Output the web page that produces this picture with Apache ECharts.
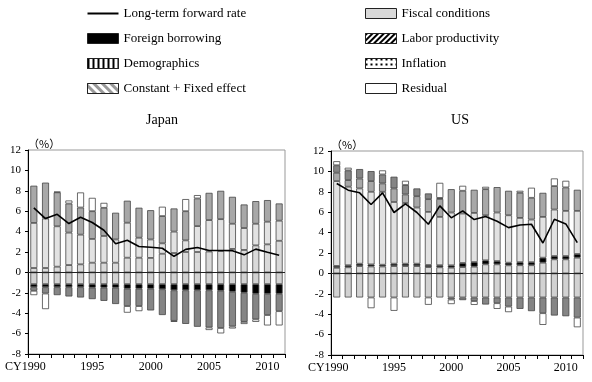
<!DOCTYPE html>
<html>
<head>
<meta charset="utf-8">
<script src="https://cdn.jsdelivr.net/npm/echarts@6/dist/echarts.min.js"></script>
<style>
  html, body { margin: 0; padding: 0; background: #fff; }
  #chart { width: 592px; height: 382px; }
</style>
</head>
<body>
<div id="chart"></div>
<script>
const years = ['1990', '1991', '1992', '1993', '1994', '1995', '1996', '1997', '1998', '1999', '2000',
  '2001', '2002', '2003', '2004', '2005', '2006', '2007', '2008', '2009', '2010', '2011'];
const yTicks = { min: -8, max: 12, step: 2 };

// Japan
const jpForward = [6.33, 5.28, 5.7, 4.79, 5.41, 4.89, 4.13, 2.8, 3.15, 2.54, 2.47, 2.37, 1.58, 2.26, 2.44, 2.14, 2.15, 2.13, 1.72, 2.28, 1.97, 1.69];
const jpConstant = [-1.15, -1.15, -1.15, -1.15, -1.15, -1.15, -1.15, -1.15, -1.15, -1.15, -1.15, -1.15, -1.15, -1.15, -1.15, -1.15, -1.15, -1.15, -1.15, -1.15, -1.15, -1.15];
const jpFiscal = [0.43, 0.43, 0.56, 0.72, 0.79, 0.95, 0.95, 0.95, 1.44, 1.44, 1.42, 1.83, 1.9, 2.0, 2.0, 2.05, 2.1, 2.3, 2.2, 2.65, 2.75, 3.1];
const jpForeign = [-0.3, -0.3, -0.3, -0.3, -0.3, -0.35, -0.35, -0.35, -0.45, -0.45, -0.45, -0.5, -0.6, -0.6, -0.6, -0.6, -0.65, -0.75, -0.85, -0.95, -0.95, -0.95];
const jpInflation = [4.42, 4.85, 3.96, 3.18, 2.91, 2.33, 2.62, 2.28, 3.43, 1.96, 1.81, 1.02, 2.1, 1.14, 2.54, 3.08, 3.12, 2.47, 2.15, 2.12, 2.22, 1.97];
const jpLabor = [3.65, 3.52, 3.33, 2.85, 2.66, 2.72, 2.76, 2.62, 2.16, 2.94, 2.87, 2.67, 2.27, 2.86, 2.71, 2.67, 2.78, 2.64, 2.31, 2.22, 2.12, 1.69];
const jpDemog = [-0.35, -0.62, -0.78, -0.91, -1.01, -1.12, -1.29, -1.6, -1.7, -1.7, -2.13, -2.53, -3.0, -3.3, -3.58, -3.65, -3.65, -3.4, -2.85, -2.5, -2.08, -1.7];
const jpResidual = [-0.43, -1.53, 0.06, 0.3, 1.48, 1.31, 0.49, 0, -0.65, -0.5, 0, 0.92, -0.1, 1.19, 0.33, -0.25, -0.53, -0.2, -0.21, -0.25, -1.02, -1.4];

// US
const usForward = [8.82, 8.16, 7.9, 6.75, 7.9, 5.97, 6.82, 5.97, 4.82, 6.62, 5.45, 6.13, 5.28, 5.57, 5.11, 4.49, 4.75, 4.82, 2.98, 5.31, 4.85, 3.02];
const usConstant = [-2.36, -2.36, -2.36, -2.36, -2.36, -2.36, -2.36, -2.36, -2.36, -2.36, -2.36, -2.36, -2.36, -2.36, -2.36, -2.36, -2.36, -2.36, -2.36, -2.36, -2.36, -2.36];
const usFiscal = [0.55, 0.6, 0.72, 0.68, 0.68, 0.72, 0.72, 0.72, 0.62, 0.6, 0.56, 0.62, 0.66, 0.89, 0.89, 0.79, 0.8, 0.8, 1.05, 1.38, 1.38, 1.54];
const usForeign = [0.18, 0.2, 0.23, 0.2, 0.17, 0.23, 0.23, 0.23, 0.2, 0.2, 0.23, 0.4, 0.45, 0.39, 0.32, 0.26, 0.3, 0.3, 0.49, 0.32, 0.32, 0.36];
const usInflation = [8.32, 7.7, 7.38, 7.12, 7.15, 6.05, 5.95, 5.51, 5.21, 4.74, 5.18, 4.85, 4.82, 4.42, 4.76, 4.65, 4.34, 4.18, 4.0, 4.56, 4.43, 4.23];
const usLabor = [0.82, 0.65, 0.97, 1.05, 0.82, 1.33, 0.84, 1.11, 1.25, 1.76, 2.29, 2.23, 2.27, 2.56, 2.49, 2.4, 2.46, 2.13, 2.36, 2.3, 2.3, 2.07];
const usDemog = [0.73, 0.95, 0.93, 0.98, 0.88, 1.15, 0.92, 0.76, 0.56, 0.1, -0.2, -0.26, -0.35, -0.69, -0.56, -0.89, -1.12, -1.34, -1.54, -1.77, -1.84, -1.97];
const usResidual = [0.4, 0.26, 0, -1.05, 0.4, -1.31, 0.42, 0, -0.72, 1.48, -0.45, 0.49, -0.38, 0.23, -0.56, -0.55, 0.2, 0.99, -1.15, 0.75, 0.65, -0.95];

const FONT = '"Liberation Serif", "Times New Roman", serif';

const COLORS = {
  'Constant + Fixed effect': '#d2d2d2',
  'Fiscal conditions': '#d9d9d9',
  'Foreign borrowing': '#000000',
  'Inflation': '#e2e2e2',
  'Labor productivity': '#a8a8a8',
  'Demographics': '#858585',
  'Residual': '#ffffff',
};

const chart = echarts.init(document.getElementById('chart'));

function bars(idx, stack, parts) {
  return parts.map(([name, data]) => ({
    name,
    type: 'bar',
    stack,
    xAxisIndex: idx,
    yAxisIndex: idx,
    barWidth: 7,
    data: data.map(v => (v === 0 ? '-' : v)),
    itemStyle: { color: COLORS[name], borderColor: '#454545', borderWidth: 0.8 },
  }));
}

function rateLine(idx, data) {
  return {
    name: 'Long-term forward rate',
    type: 'line',
    xAxisIndex: idx,
    yAxisIndex: idx,
    data,
    symbol: 'none',
    z: 5,
    lineStyle: { color: '#000', width: 1.6 },
    itemStyle: { color: '#000' },
    markLine: {
      silent: true,
      symbol: 'none',
      data: [{ yAxis: 0 }],
      lineStyle: { color: '#222', width: 1, type: 'solid' },
      label: { show: false },
    },
  };
}

function xAxis(idx) {
  return {
    type: 'category',
    gridIndex: idx,
    data: years,
    axisLine: { onZero: false, lineStyle: { color: '#000' } },
    axisTick: { show: true, interval: 0, length: 4, lineStyle: { color: '#000' } },
    axisLabel: {
      interval: 0,
      margin: 7,
      color: '#000',
      fontFamily: FONT,
      fontSize: 12,
      formatter: (v, i) => (i === 0 ? '{cy|CY' + v + '}' : (Number(v) % 5 === 0 ? v : '')),
      rich: { cy: { fontFamily: FONT, fontSize: 12, color: '#000', padding: [0, 17, 0, 0] } },
    },
  };
}

function yAxis(idx) {
  return {
    type: 'value',
    gridIndex: idx,
    min: yTicks.min,
    max: yTicks.max,
    interval: yTicks.step,
    name: '（%）',
    nameLocation: 'end',
    nameGap: 1,
    nameTextStyle: { color: '#000', fontSize: 11, align: 'left', padding: [0, 0, 0, 0], fontFamily: '"Noto Sans CJK JP", sans-serif' },
    splitLine: { show: false },
    axisLine: { show: true, lineStyle: { color: '#000' } },
    axisTick: { show: true, length: 3, lineStyle: { color: '#000' } },
    axisLabel: { color: '#000', fontFamily: FONT, fontSize: 11, margin: 7 },
  };
}

const legendText = { color: '#000', fontFamily: FONT, fontSize: 13, lineHeight: 13 };
const box = { borderColor: '#222', borderWidth: 1 };
const lineIcon = 'path://M0,0 L31,0 L31,2 L0,2 Z';

chart.setOption({
  animation: false,
  textStyle: { fontFamily: FONT },
  title: [
    { text: 'Japan', left: 157, top: 108, textAlign: 'center', textStyle: { fontFamily: FONT, fontSize: 14, fontWeight: 'normal', color: '#000' } },
    { text: 'US', left: 455, top: 108, textAlign: 'center', textStyle: { fontFamily: FONT, fontSize: 14, fontWeight: 'normal', color: '#000' } },
  ],
  legend: [
    {
      left: 82, top: 2, orient: 'vertical', itemWidth: 31, itemHeight: 10, itemGap: 12, itemTextGap: 10,
      icon: 'rect', selectedMode: false, textStyle: legendText,
      data: [
        { name: 'Long-term forward rate', icon: lineIcon, itemStyle: { color: '#000', borderWidth: 0 } },
        { name: 'Foreign borrowing', itemStyle: { color: '#000', ...box } },
        { name: 'Demographics', itemStyle: { color: '#fff', ...box,
          decal: { symbol: 'rect', symbolSize: 1, color: '#000', dashArrayX: [2, 3], dashArrayY: [1, 0] } } },
        { name: 'Constant + Fixed effect', itemStyle: { color: '#fff', ...box,
          decal: { symbol: 'rect', symbolSize: 1, color: '#999', dashArrayX: [1, 0], dashArrayY: [3, 3], rotation: Math.PI / 4 } } },
      ],
    },
    {
      left: 360, top: 2, orient: 'vertical', itemWidth: 31, itemHeight: 10, itemGap: 12, itemTextGap: 10,
      icon: 'rect', selectedMode: false, textStyle: legendText,
      data: [
        { name: 'Fiscal conditions', itemStyle: { color: '#d9d9d9', ...box } },
        { name: 'Labor productivity', itemStyle: { color: '#fff', ...box,
          decal: { symbol: 'rect', symbolSize: 1, color: '#000', dashArrayX: [1, 0], dashArrayY: [1.2, 1.8], rotation: -Math.PI / 4 } } },
        { name: 'Inflation', itemStyle: { color: '#fff', ...box,
          decal: { symbol: 'rect', symbolSize: 1, color: '#000', dashArrayX: [1.2, 3], dashArrayY: [1.2, 2.5] } } },
        { name: 'Residual', itemStyle: { color: '#fff', ...box } },
      ],
    },
  ],
  grid: [
    { left: 28, top: 150, width: 257, height: 204, show: true, borderColor: '#999', borderWidth: 1 },
    { left: 331, top: 151, width: 252, height: 204, show: true, borderColor: '#999', borderWidth: 1 },
  ],
  xAxis: [xAxis(0), xAxis(1)],
  yAxis: [yAxis(0), yAxis(1)],
  series: [
    ...bars(0, 'jp', [
      ['Constant + Fixed effect', jpConstant],
      ['Fiscal conditions', jpFiscal],
      ['Foreign borrowing', jpForeign],
      ['Inflation', jpInflation],
      ['Labor productivity', jpLabor],
      ['Demographics', jpDemog],
      ['Residual', jpResidual],
    ]),
    rateLine(0, jpForward),
    ...bars(1, 'us', [
      ['Constant + Fixed effect', usConstant],
      ['Fiscal conditions', usFiscal],
      ['Foreign borrowing', usForeign],
      ['Inflation', usInflation],
      ['Labor productivity', usLabor],
      ['Demographics', usDemog],
      ['Residual', usResidual],
    ]),
    rateLine(1, usForward),
  ],
});
</script>
</body>
</html>
